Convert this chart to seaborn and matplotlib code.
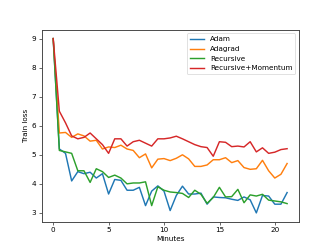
import numpy as np
import pandas as pd
import matplotlib
matplotlib.use("Agg")
import matplotlib.pyplot as plt
import seaborn as sns

step = 0.555
n_points = 39
adam = [9.0, 5.2, 5.05, 4.1, 4.42, 4.35, 4.4, 4.2, 4.35, 3.65,
        4.15, 4.12, 3.78, 3.78, 3.88, 3.25, 3.75, 3.93, 3.75, 3.08,
        3.6, 3.92, 3.65, 3.65, 3.68, 3.3, 3.55, 3.53, 3.52, 3.47,
        3.43, 3.55, 3.45, 3.0, 3.6, 3.58, 3.3, 3.3, 3.7]
adagrad = [9.0, 5.75, 5.77, 5.6, 5.72, 5.65, 5.47, 5.5, 5.2, 5.27,
           5.25, 5.33, 5.2, 5.15, 4.9, 5.03, 4.55, 4.85, 4.87, 4.8,
           4.88, 5.0, 4.86, 4.6, 4.6, 4.65, 4.83, 4.83, 4.9, 4.73,
           4.8, 4.56, 4.5, 4.52, 4.81, 4.45, 4.2, 4.33, 4.7]
recursive = [9.0, 5.15, 5.1, 5.05, 4.45, 4.45, 4.05, 4.52, 4.42, 4.22,
             4.3, 4.2, 4.0, 4.03, 4.03, 4.07, 3.25, 3.9, 3.78, 3.72,
             3.7, 3.67, 3.53, 3.78, 3.64, 3.33, 3.53, 3.88, 3.55, 3.56,
             3.81, 3.35, 3.62, 3.58, 3.64, 3.44, 3.41, 3.38, 3.32]
recursive_momentum = [9.0, 6.5, 6.1, 5.65, 5.55, 5.6, 5.75, 5.55, 5.35, 5.05,
                      5.55, 5.55, 5.3, 5.45, 5.5, 5.4, 5.3, 5.55, 5.55, 5.58,
                      5.64, 5.55, 5.45, 5.35, 5.28, 5.25, 4.95, 5.45, 5.43, 5.28,
                      5.3, 5.27, 5.45, 5.1, 5.24, 5.05, 5.09, 5.18, 5.21]
names = ["Adam", "Adagrad", "Recursive", "Recursive+Momentum"]

minutes = np.arange(n_points) * step
frames = []
for name, vals in zip(names, [adam, adagrad, recursive, recursive_momentum]):
    frames.append(pd.DataFrame({"Minutes": minutes, "Train loss": vals, "method": name}))
df = pd.concat(frames, ignore_index=True)

fig = plt.figure(figsize=(6.4, 4.8), dpi=51.875)
ax = fig.add_subplot(111)
sns.lineplot(data=df, x="Minutes", y="Train loss", hue="method",
             hue_order=names, palette=sns.color_palette("tab10", 4),
             linewidth=2.0, ax=ax)
ax.set_xticks([0, 5, 10, 15, 20])
ax.set_yticks([3, 4, 5, 6, 7, 8, 9])
for s in ax.spines.values():
    s.set_linewidth(1.3)
    s.set_color("#444444")
ax.legend(loc="upper right", title=None)
fig.savefig("out.png", dpi=51.875)
